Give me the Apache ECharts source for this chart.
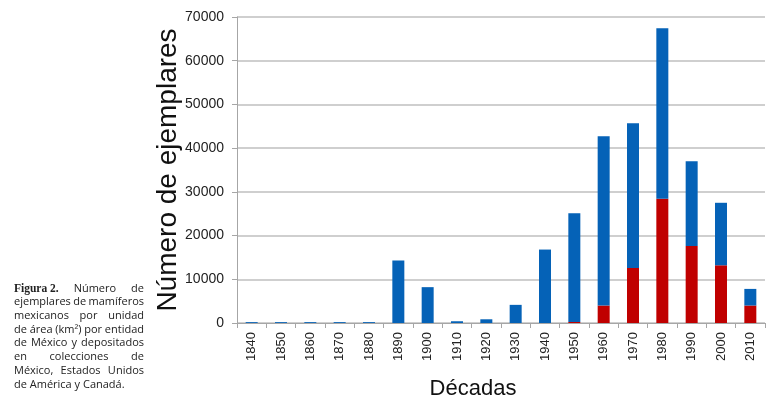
<!DOCTYPE html>
<html>
<head>
<meta charset="utf-8">
<script src="https://cdn.jsdelivr.net/npm/echarts@6/dist/echarts.min.js"></script>
<style>
  html, body { margin: 0; padding: 0; background: #fff; }
  #chart { width: 780px; height: 401px; }
</style>
</head>
<body>
<div id="chart"></div>
<script>
// decades on the x axis
const decadas = ['1840', '1850', '1860', '1870', '1880', '1890', '1900', '1910', '1920',
  '1930', '1940', '1950', '1960', '1970', '1980', '1990', '2000', '2010'];
// lower (red) part of each bar
const rojo = [0, 0, 0, 0, 0, 0, 0, 0, 0, 0, 0, 230, 4000, 12600, 28400, 17600, 13200, 4000];
// upper (blue) part of each bar, stacked on top of the red one
const azul = [200, 200, 200, 200, 200, 14300, 8200, 400, 850, 4150, 16800, 24870, 38700, 33100, 39000, 19400, 14300, 3800];
const yTicks = [0, 10000, 20000, 30000, 40000, 50000, 60000, 70000];

const caption = [
  'Figura 2.  Número de',
  'ejemplares de mamíferos',
  'mexicanos por unidad',
  'de área (km²) por entidad',
  'de México y depositados',
  'en colecciones de',
  'México, Estados Unidos',
  'de América y Canadá.'
];

const capFont = '11px "Open Sans"';
const capBold = 'bold 11.5px "Liberation Serif"';
const capLeft = 14, capRight = 144, capTop = 283, capStep = 13.7;

const measure = document.createElement('canvas').getContext('2d');
function textWidth(str, font) {
  measure.font = font;
  return measure.measureText(str).width;
}

// justified caption: one text per word, spread over the line width
function captionGraphics() {
  const out = [];
  caption.forEach(function (line, i) {
    let words = line.split(/\s+/);
    let fonts = words.map(function () { return capFont; });
    if (i === 0) {
      words = ['Figura 2.', 'Número', 'de'];
      fonts = [capBold, capFont, capFont];
    }
    const y = capTop + i * capStep;
    const widths = words.map(function (w, k) { return textWidth(w, fonts[k]); });
    const total = widths.reduce(function (a, b) { return a + b; }, 0);
    const last = i === caption.length - 1;
    const gap = last ? textWidth(' ', capFont) : (capRight - capLeft - total) / (words.length - 1);
    let x = capLeft;
    words.forEach(function (w, k) {
      out.push({
        type: 'text',
        left: x,
        top: y,
        style: { text: w, font: fonts[k], fill: '#222' }
      });
      x += widths[k] + gap;
    });
  });
  return out;
}

const chart = echarts.init(document.getElementById('chart'));
chart.setOption({
  animation: false,
  backgroundColor: '#fff',
  grid: { left: 237, right: 15, top: 17, bottom: 78, outerBoundsMode: 'none' },
  xAxis: {
    type: 'category',
    data: decadas,
    name: 'Décadas',
    nameLocation: 'middle',
    nameGap: 55,
    nameTextStyle: { fontFamily: 'Liberation Sans', fontSize: 22, color: '#111', padding: [0, 56, 0, 0] },
    axisLine: { lineStyle: { color: '#a6a6a6' } },
    axisTick: { show: true, length: 5, lineStyle: { color: '#a6a6a6' } },
    axisLabel: {
      rotate: 90,
      margin: 9,
      fontFamily: 'Liberation Sans',
      fontSize: 13,
      color: '#222'
    }
  },
  yAxis: {
    type: 'value',
    min: 0,
    max: 70000,
    interval: 10000,
    name: 'Número de ejemplares',
    nameLocation: 'middle',
    nameGap: 55,
    nameMoveOverlap: false,
    nameTextStyle: { fontFamily: 'Liberation Sans', fontSize: 28, color: '#111' },
    axisLine: { show: true, lineStyle: { color: '#a6a6a6' } },
    axisTick: { show: true, length: 5, lineStyle: { color: '#a6a6a6' } },
    axisLabel: {
      margin: 13,
      fontFamily: 'Liberation Sans',
      fontSize: 14,
      color: '#222',
      formatter: function (v) { return yTicks.indexOf(v) >= 0 ? String(v) : ''; }
    },
    splitLine: { lineStyle: { color: '#bfbfbf', width: 1.5 } }
  },
  series: [
    {
      type: 'bar',
      stack: 'total',
      data: rojo,
      barWidth: 12,
      itemStyle: { color: '#c00000' }
    },
    {
      type: 'bar',
      stack: 'total',
      data: azul,
      barWidth: 12,
      itemStyle: { color: '#0562b7' }
    }
  ],
  graphic: captionGraphics()
});
</script>
</body>
</html>
